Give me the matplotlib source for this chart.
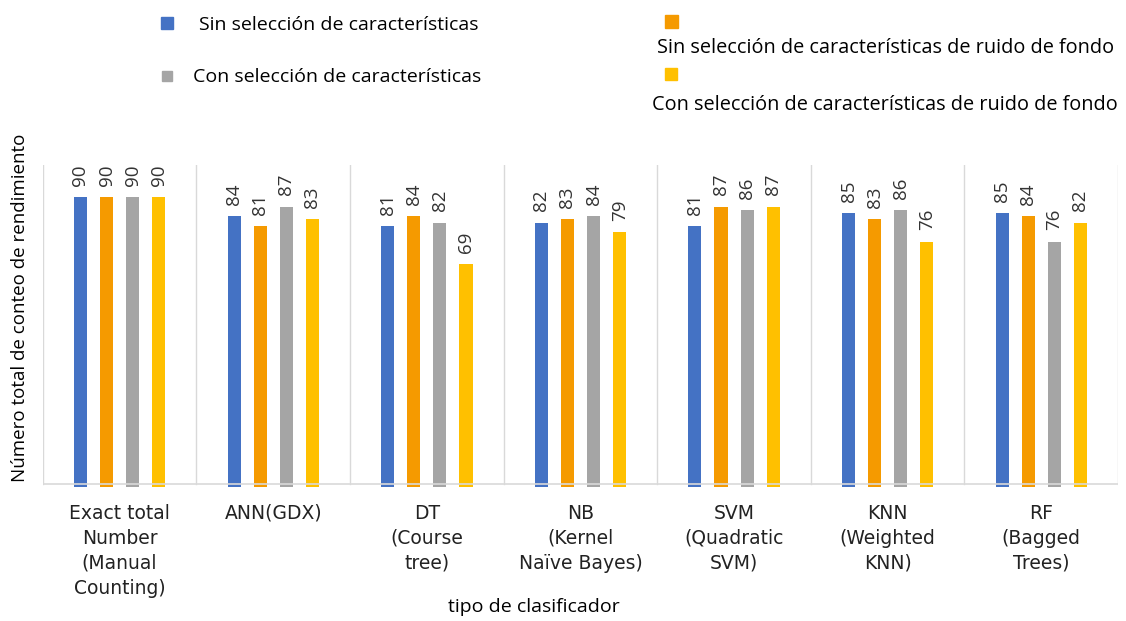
import matplotlib.pyplot as plt
from matplotlib.patches import Rectangle
import numpy as np

plt.rcParams['font.family'] = ['Open Sans', 'DejaVu Sans']

# data
classifiers = ['Exact total\nNumber\n(Manual\nCounting)', 'ANN(GDX)', 'DT\n(Course\ntree)',
               'NB\n(Kernel\nNaïve Bayes)', 'SVM\n(Quadratic\nSVM)', 'KNN\n(Weighted\nKNN)',
               'RF\n(Bagged\nTrees)']
sin_sel = [90, 84, 81, 82, 81, 85, 85]
sin_sel_ruido = [90, 81, 84, 83, 87, 83, 84]
con_sel = [90, 87, 82, 84, 86, 86, 76]
con_sel_ruido = [90, 83, 69, 79, 87, 76, 82]

series_names = ['Sin selección de características',
                'Sin selección de características de ruido de fondo',
                'Con selección de características',
                'Con selección de características de ruido de fondo']
colors = ['#4472C4', '#F59A00', '#A5A5A5', '#FFC000']
series = [sin_sel, sin_sel_ruido, con_sel, con_sel_ruido]

fig = plt.figure(figsize=(11.26, 6.21), dpi=100)
ax = fig.add_axes([0.038, 0.216, 0.955, 0.518])

x = np.arange(len(classifiers))
bottom = -1.0
w = 0.085
for k, (vals, c) in enumerate(zip(series, colors)):
    pos = x + (k - 1.5) * 0.17
    heights = np.array(vals) - bottom
    ax.bar(pos, heights, w, bottom=bottom, color=c, zorder=2)
    for p, v in zip(pos, vals):
        ax.text(p, v + 3.5, str(v), rotation=90, ha='center', va='bottom',
                fontsize=13.5, color='#333333')

ax.axhline(0, color='#D9D9D9', lw=1.2, zorder=3)
for i in range(len(classifiers) + 1):
    ax.plot([i - 0.5, i - 0.5], [0, 100], color='#D9D9D9', lw=1, zorder=1)

ax.set_xlim(-0.5, len(classifiers) - 0.5)
ax.set_ylim(bottom, 100)
for s in ax.spines.values():
    s.set_visible(False)
ax.set_yticks([])
ax.set_xticks(x)
ax.set_xticklabels(classifiers, fontsize=13.5, color='#222222', family='DejaVu Sans',
                   linespacing=1.4)
ax.tick_params(axis='x', length=0, pad=12)
ax.set_xlabel('tipo de clasificador', fontsize=14, va='center')
ax.xaxis.set_label_coords(0.457, -0.373)
ax.set_ylabel('Número total de conteo de rendimiento', fontsize=13.5, va='center')
ax.yaxis.set_label_coords(-0.021, 0.556)

# legend drawn by hand to follow the original layout
W, H = 1126, 621
def square(px, py, s, c):
    fig.add_artist(Rectangle((px / W, 1 - (py + s) / H), s / W, s / H,
                             color=c, transform=fig.transFigure))

square(161, 17, 12, colors[0])
fig.text(199 / W, 1 - 25 / H, series_names[0], fontsize=14, va='center')
square(162, 71, 10, colors[2])
fig.text(193 / W, 1 - 77 / H, series_names[2], fontsize=14, va='center')
square(665, 15, 13, colors[1])
fig.text(657 / W, 1 - 48 / H, series_names[1], fontsize=14.3, va='center')
square(665, 68, 12, colors[3])
fig.text(652 / W, 1 - 105 / H, series_names[3], fontsize=14.3, va='center')

fig.savefig('out.png', dpi=100)
